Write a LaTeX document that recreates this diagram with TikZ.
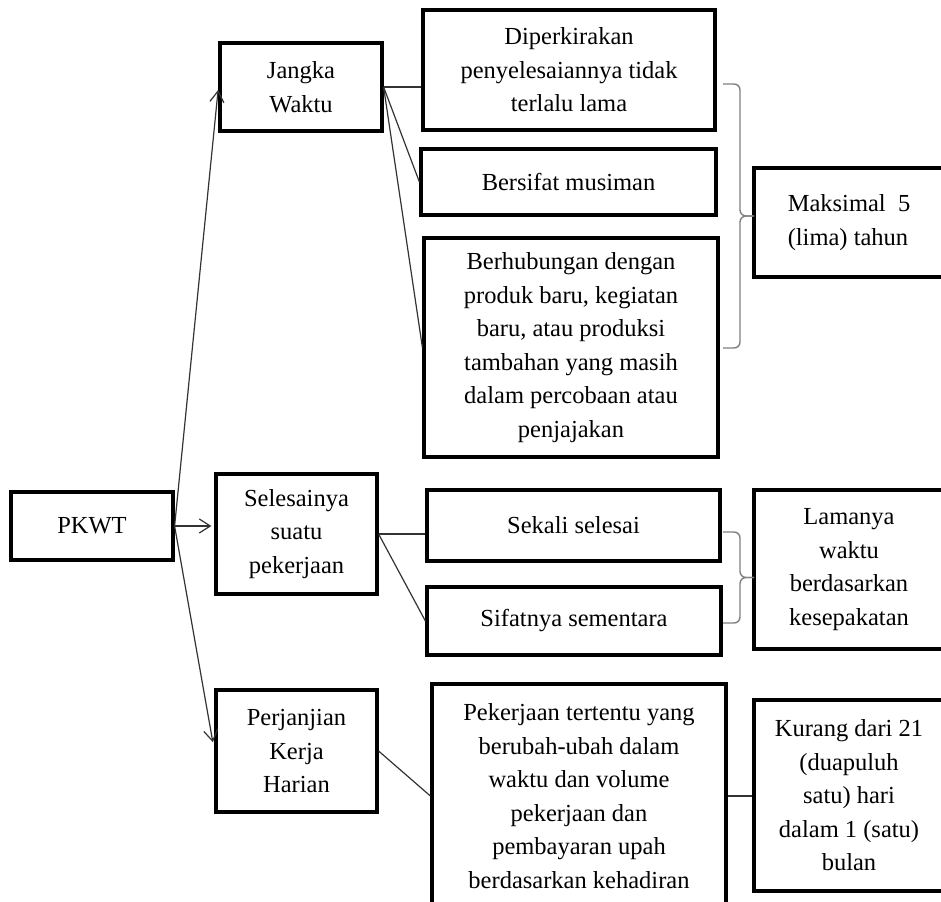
\documentclass[tikz,border=0pt]{standalone}
\usepackage{fontspec}
\setmainfont{Liberation Serif}
\usetikzlibrary{arrows.meta,calc}

\begin{document}
\begin{tikzpicture}[
  x=1pt, y=-1pt,
  >={Straight Barb[length=11pt,width=14pt]},
  box/.style={draw=black, line width=3.2pt, align=center, inner sep=0pt,
              font=\fontsize{24.5}{33.5}\selectfont},
  link/.style={draw=black!80, line width=1.2pt},
  arr/.style={link, ->, shorten >=3pt},
  brc/.style={draw=black!50, line width=1.4pt, rounded corners=6pt}
]

  % --- page frame, cut off at the right and at the bottom ---
  \useasboundingbox[fill=white] (0,0) rectangle (941,901);
  \clip (0,0) rectangle (941,901);

  % --- root and the three kinds ---
  \node[box, minimum width=162pt, minimum height=68pt]  (pkwt) at (92,526)    {PKWT};
  \node[box, minimum width=162pt, minimum height=88pt]  (jw)   at (301,87)    {Jangka\\Waktu};
  \node[box, minimum width=161pt, minimum height=120pt] (sel)  at (296.5,534) {Selesainya\\suatu\\pekerjaan};
  \node[box, minimum width=161pt, minimum height=122pt] (pkh)  at (296.5,751) {Perjanjian\\Kerja\\Harian};

  % --- conditions ---
  \node[box, minimum width=292pt, minimum height=120pt] (dip)  at (569,70)
       {Diperkirakan\\penyelesaiannya tidak\\terlalu lama};
  \node[box, minimum width=295pt, minimum height=66pt]  (mus)  at (568.5,182) {Bersifat musiman};
  \node[box, minimum width=294pt, minimum height=219pt] (baru) at (571,347.5)
       {Berhubungan dengan\\produk baru, kegiatan\\baru, atau produksi\\tambahan yang masih\\dalam percobaan atau\\penjajakan};
  \node[box, minimum width=293pt, minimum height=71pt]  (sek)  at (573.5,525.5) {Sekali selesai};
  \node[box, minimum width=294pt, minimum height=68pt]  (sif)  at (574,621)  {Sifatnya sementara};
  \node[box, minimum width=294pt, minimum height=224pt] (pek)  at (579,796)
       {Pekerjaan tertentu yang\\berubah-ubah dalam\\waktu dan volume\\pekerjaan dan\\pembayaran upah\\berdasarkan kehadiran};

  % --- durations ---
  \node[box, align=left, minimum width=190pt, minimum height=109pt] (max) at (849,222.5)
       {Maksimal~ 5\\(lima) tahun};
  \node[box, minimum width=190pt, minimum height=159pt] (lam) at (849,569.5)
       {Lamanya\\waktu\\berdasarkan\\kesepakatan};
  \node[box, minimum width=190pt, minimum height=191pt] (kur) at (849,795.5)
       {Kurang dari 21\\(duapuluh\\satu) hari\\dalam 1 (satu)\\bulan};

  % --- arrows out of the root ---
  \draw[arr] (pkwt.east) -- (jw.west);
  \draw[arr] (pkwt.east) -- (pkwt.east -| sel.west);
  \draw[arr, shorten >=9pt] (pkwt.east) -- (pkh.west);

  % --- plain links ---
  \draw[link] (jw.east) -- (jw.east -| dip.west);
  \draw[link] (jw.east) -- (mus.west);
  \draw[link] (jw.east) -- (baru.west);
  \draw[link] (sel.east) -- (sel.east -| sek.west);
  \draw[link] (sel.east) -- (sif.west);
  \draw[link] (pkh.east) -- (pek.west);
  \draw[link] (pek.east) -- (pek.east -| kur.west);

  % --- braces ---
  \draw[brc] (723,84) -| (740,216) -- (754,216);
  \draw[brc] (723,348) -| (740,216) -- (754,216);
  \draw[brc] (723,532) -| (740,577.5) -- (754,577.5);
  \draw[brc] (723,623) -| (740,577.5) -- (754,577.5);

\end{tikzpicture}
\end{document}
